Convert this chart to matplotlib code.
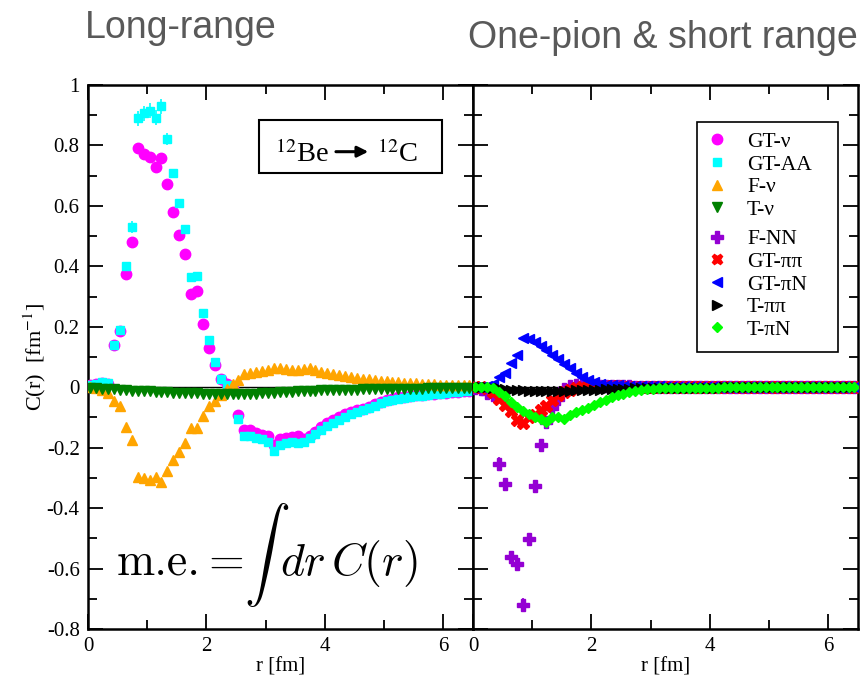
import numpy as np
import matplotlib
matplotlib.use("Agg")
import matplotlib.pyplot as plt
from matplotlib.patches import Rectangle
from matplotlib.ticker import MultipleLocator
from matplotlib.lines import Line2D

plt.rcParams['font.family'] = ['Liberation Serif', 'DejaVu Serif']
plt.rcParams['mathtext.fontset'] = 'stix'
plt.rcParams['axes.formatter.use_mathtext'] = False

# radial grid (fm)
r = np.round(0.04 + 0.1 * np.arange(65), 2)

gt_nu = [0.008, 0.012, 0.015, 0.012, 0.139, 0.185, 0.376, 0.481, 0.790, 0.771,
         0.763, 0.730, 0.760, 0.672, 0.580, 0.503, 0.440, 0.310, 0.318, 0.209,
         0.130, 0.072, 0.028, 0.010, -0.004, -0.092, -0.140, -0.140, -0.152, -0.157,
         -0.163, -0.190, -0.172, -0.167, -0.166, -0.163, -0.170, -0.163, -0.148, -0.130,
         -0.117, -0.108, -0.100, -0.090, -0.082, -0.076, -0.071, -0.065, -0.056, -0.048,
         -0.042, -0.038, -0.034, -0.031, -0.029, -0.027, -0.025, -0.023, -0.021, -0.019,
         -0.018, -0.016, -0.015, -0.013, -0.012]
gt_aa = [0.008, 0.012, 0.016, 0.014, 0.140, 0.190, 0.400, 0.531, 0.890, 0.906,
         0.915, 0.892, 0.930, 0.820, 0.708, 0.608, 0.525, 0.365, 0.369, 0.244,
         0.156, 0.082, 0.026, 0.008, -0.004, -0.104, -0.160, -0.160, -0.168, -0.172,
         -0.180, -0.212, -0.190, -0.185, -0.182, -0.186, -0.180, -0.168, -0.155, -0.140,
         -0.127, -0.117, -0.107, -0.098, -0.090, -0.083, -0.077, -0.070, -0.062, -0.053,
         -0.047, -0.042, -0.038, -0.035, -0.032, -0.030, -0.028, -0.025, -0.023, -0.021,
         -0.019, -0.017, -0.016, -0.014, -0.013]
gt_aa_err = [0.005, 0.005, 0.005, 0.005, 0.010, 0.010, 0.015, 0.020, 0.025, 0.025,
             0.025, 0.025, 0.025, 0.020, 0.015, 0.015, 0.012, 0.010, 0.010, 0.008,
             0.008, 0.006, 0.006, 0.006, 0.006, 0.006, 0.006, 0.006, 0.006, 0.006,
             0.006, 0.006, 0.006, 0.006, 0.006, 0.006, 0.006, 0.005, 0.005, 0.005,
             0.005, 0.005, 0.005, 0.005, 0.005, 0.005, 0.005, 0.005, 0.005, 0.005,
             0.004, 0.004, 0.004, 0.004, 0.004, 0.004, 0.004, 0.004, 0.004, 0.004,
             0.004, 0.004, 0.004, 0.004, 0.004]
f_nu = [0.000, -0.002, -0.008, -0.020, -0.045, -0.063, -0.131, -0.173, -0.297, -0.302,
        -0.306, -0.297, -0.313, -0.278, -0.242, -0.214, -0.186, -0.134, -0.134, -0.094,
        -0.063, -0.045, -0.025, -0.005, 0.012, 0.025, 0.043, 0.048, 0.052, 0.055,
        0.058, 0.062, 0.063, 0.060, 0.058, 0.058, 0.060, 0.062, 0.058, 0.052,
        0.047, 0.043, 0.040, 0.037, 0.034, 0.031, 0.028, 0.026, 0.024, 0.022,
        0.020, 0.018, 0.017, 0.015, 0.014, 0.013, 0.012, 0.011, 0.010, 0.009,
        0.008, 0.008, 0.007, 0.007, 0.006]
t_nu = [-0.003, -0.004, -0.005, -0.006, -0.007, -0.008, -0.010, -0.011, -0.012, -0.013,
        -0.014, -0.015, -0.016, -0.017, -0.018, -0.018, -0.019, -0.020, -0.020, -0.021,
        -0.022, -0.022, -0.023, -0.023, -0.024, -0.023, -0.023, -0.022, -0.021, -0.020,
        -0.019, -0.018, -0.017, -0.016, -0.015, -0.014, -0.013, -0.012, -0.011, -0.010,
        -0.010, -0.009, -0.009, -0.008, -0.008, -0.008, -0.007, -0.007, -0.007, -0.006,
        -0.006, -0.006, -0.006, -0.005, -0.005, -0.005, -0.005, -0.004, -0.004, -0.004,
        -0.004, -0.003, -0.003, -0.003, -0.003]

f_nn = [-0.002, -0.005, -0.020, -0.025, -0.253, -0.319, -0.562, -0.584, -0.719, -0.502,
        -0.328, -0.192, -0.115, -0.070, -0.040, -0.005, 0.005, 0.008, 0.008, 0.007,
        0.006, 0.005, 0.004, 0.004, 0.003, 0.003, 0.003, 0.002, 0.002, 0.002,
        0.002, 0.002, 0.001, 0.001, 0.001, 0.001, 0.001, 0.001, 0.001, 0.001,
        0.001, 0.001, 0.000, 0.000, 0.000, 0.000, 0.000, 0.000, 0.000, 0.000,
        0.000, 0.000, 0.000, 0.000, 0.000, 0.000, 0.000, 0.000, 0.000, 0.000,
        0.000, 0.000, 0.000, 0.000, 0.000]
f_nn_err = [0.002, 0.002, 0.004, 0.004, 0.022, 0.020, 0.015, 0.020, 0.020, 0.015,
            0.012, 0.010, 0.008, 0.005, 0.004, 0.002, 0.002, 0.002, 0.002, 0.002,
            0.002, 0.002, 0.002, 0.002, 0.002, 0.002, 0.002, 0.002, 0.002, 0.002,
            0.001, 0.001, 0.001, 0.001, 0.001, 0.001, 0.001, 0.001, 0.001, 0.001,
            0.001, 0.001, 0.001, 0.001, 0.001, 0.001, 0.001, 0.001, 0.001, 0.001,
            0.001, 0.001, 0.001, 0.001, 0.001, 0.001, 0.001, 0.001, 0.001, 0.001,
            0.001, 0.001, 0.001, 0.001, 0.001]
gt_pipi = [0.000, 0.000, -0.003, -0.015, -0.038, -0.060, -0.078, -0.109, -0.118, -0.098,
           -0.093, -0.076, -0.063, -0.043, -0.027, -0.017, -0.010, -0.004, 0.000, 0.003,
           0.004, 0.004, 0.004, 0.003, 0.003, 0.002, 0.002, 0.002, 0.002, 0.001,
           0.001, 0.001, 0.001, 0.001, 0.001, 0.001, 0.001, 0.000, 0.000, 0.000,
           0.000, 0.000, 0.000, 0.000, 0.000, 0.000, 0.000, 0.000, 0.000, 0.000,
           0.000, 0.000, 0.000, 0.000, 0.000, 0.000, 0.000, 0.000, 0.000, 0.000,
           0.000, 0.000, 0.000, 0.000, 0.000]
gt_pin = [0.000, 0.001, 0.003, 0.010, 0.035, 0.048, 0.080, 0.105, 0.164, 0.158,
          0.148, 0.135, 0.122, 0.106, 0.092, 0.077, 0.062, 0.047, 0.035, 0.025,
          0.018, 0.012, 0.009, 0.007, 0.006, 0.005, 0.005, 0.004, 0.004, 0.003,
          0.003, 0.003, 0.002, 0.002, 0.002, 0.002, 0.002, 0.002, 0.001, 0.001,
          0.001, 0.001, 0.001, 0.001, 0.001, 0.001, 0.001, 0.001, 0.001, 0.001,
          0.001, 0.001, 0.001, 0.001, 0.001, 0.000, 0.000, 0.000, 0.000, 0.000,
          0.000, 0.000, 0.000, 0.000, 0.000]
t_pipi = [0.000, 0.000, 0.000, -0.002, -0.004, -0.006, -0.008, -0.009, -0.010, -0.011,
          -0.012, -0.012, -0.012, -0.012, -0.012, -0.011, -0.011, -0.010, -0.010, -0.009,
          -0.008, -0.008, -0.007, -0.006, -0.006, -0.005, -0.005, -0.004, -0.004, -0.003,
          -0.003, -0.003, -0.002, -0.002, -0.002, -0.002, -0.001, -0.001, -0.001, -0.001,
          -0.001, -0.001, 0.000, 0.000, 0.000, 0.000, 0.000, 0.000, 0.000, 0.000,
          0.000, 0.000, 0.000, 0.000, 0.000, 0.000, 0.000, 0.000, 0.000, 0.000,
          0.000, 0.000, 0.000, 0.000, 0.000]
t_pin = [0.002, 0.002, 0.001, -0.002, -0.015, -0.028, -0.048, -0.065, -0.078, -0.088,
         -0.098, -0.106, -0.115, -0.100, -0.100, -0.104, -0.093, -0.083, -0.075, -0.068,
         -0.060, -0.050, -0.042, -0.034, -0.027, -0.021, -0.016, -0.012, -0.009, -0.007,
         -0.005, -0.004, -0.003, -0.002, -0.002, -0.002, -0.001, -0.001, -0.001, -0.001,
         -0.001, -0.001, 0.000, 0.000, 0.000, 0.000, 0.000, 0.000, 0.000, 0.000,
         0.000, 0.000, 0.000, 0.000, 0.000, 0.000, 0.000, 0.000, 0.000, 0.000,
         0.000, 0.000, 0.000, 0.000, 0.000]

ytick_vals = [-0.8, -0.6, -0.4, -0.2, 0.0, 0.2, 0.4, 0.6, 0.8, 1.0]
ytick_labels = ['-0.8', '-0.6', '-0.4', '-0.2', '0', '0.2', '0.4', '0.6', '0.8', '1']
xtick_vals = [0, 2, 4, 6]
xtick_labels = ['0', '2', '4', '6']

W, H = 860, 679
fig = plt.figure(figsize=(W / 100, H / 100), dpi=100)
ax_l = fig.add_axes([88 / W, 50 / H, 385 / W, 544 / H])
ax_r = fig.add_axes([473 / W, 50 / H, 385 / W, 544 / H])

TICKFS = 15
for ax in (ax_l, ax_r):
    ax.set_xlim(0, 6.5)
    ax.set_ylim(-0.8, 1.0)
    ax.set_xticks(xtick_vals)
    ax.set_xticklabels(xtick_labels)
    ax.xaxis.set_minor_locator(MultipleLocator(1))
    ax.set_yticks(ytick_vals)
    ax.yaxis.set_minor_locator(MultipleLocator(0.1))
    ax.tick_params(which='both', direction='in', top=True, right=True,
                   width=1.3, labelsize=TICKFS, pad=6)
    ax.tick_params(which='major', length=11)
    ax.tick_params(which='minor', length=6.5)
    for s in ax.spines.values():
        s.set_linewidth(1.8)
    ax.axhline(0, color='black', lw=1.0, zorder=1)
    ax.set_xlabel('r [fm]', fontsize=15, labelpad=1)

ax_l.set_yticklabels(ytick_labels)
ax_r.tick_params(labelleft=False)
ax_l.set_ylabel(r'C(r)  [fm$^{-1}$]', fontsize=16, labelpad=-1)

c_mag, c_cyan, c_orange, c_dgreen = '#ff00ff', '#00ffff', '#ffa500', '#008000'
c_purple, c_red, c_blue, c_black, c_lgreen = '#9400d3', '#ff0000', '#0000ff', '#000000', '#00ff00'

# left panel
ax_l.plot(r, gt_nu, 'o', color=c_mag, ms=7.5, zorder=3)
ax_l.errorbar(r, gt_aa, yerr=gt_aa_err, fmt='s', color=c_cyan, ms=6,
              elinewidth=1.2, capsize=0, zorder=4)
ax_l.plot(r, f_nu, '^', color=c_orange, ms=7.5, zorder=5)
ax_l.plot(r, t_nu, 'v', color=c_dgreen, ms=7.5, zorder=6)

# right panel
ax_r.errorbar(r, f_nn, yerr=f_nn_err, fmt='P', color=c_purple, ms=8,
              elinewidth=1.2, capsize=0, zorder=3)
ax_r.plot(r, gt_pipi, 'X', color=c_red, ms=8, zorder=4)
ax_r.plot(r, gt_pin, '<', color=c_blue, ms=7.5, zorder=5)
ax_r.plot(r, t_pipi, '>', color=c_black, ms=6.5, zorder=6)
ax_r.plot(r, t_pin, 'D', color=c_lgreen, ms=5.5, zorder=7)

# legend (two groups in one framed box)
def h(marker, color, ms):
    return Line2D([], [], ls='none', marker=marker, color=color, ms=ms)

leg_kw = dict(frameon=False, fontsize=15.5, borderpad=0, handlelength=1.2,
              handletextpad=0.8, labelspacing=0.12, numpoints=1,
              loc='upper left', borderaxespad=0)
leg1 = ax_r.legend([h('o', c_mag, 7.5), h('s', c_cyan, 6), h('^', c_orange, 7.5),
                    h('v', c_dgreen, 7.5)],
                   ['GT-ν', 'GT-AA', 'F-ν', 'T-ν'],
                   bbox_to_anchor=(0.60, 0.914), **leg_kw)
ax_r.add_artist(leg1)
leg2 = ax_r.legend([h('P', c_purple, 8), h('X', c_red, 7.5), h('<', c_blue, 7.5),
                    h('>', c_black, 6.5), h('D', c_lgreen, 5.5)],
                   ['F-NN', 'GT-ππ', 'GT-πN', 'T-ππ', 'T-πN'],
                   bbox_to_anchor=(0.60, 0.735), **leg_kw)
ax_r.add_patch(Rectangle((0.582, 0.509), 0.366, 0.423, transform=ax_r.transAxes,
                         facecolor='white', edgecolor='black', lw=1.2, zorder=9))
leg1.set_zorder(10)
leg2.set_zorder(10)

# reaction box
ax_l.add_patch(Rectangle((0.445, 0.839), 0.474, 0.097, transform=ax_l.transAxes,
                         facecolor='white', edgecolor='black', lw=1.5, zorder=9))
ax_l.text(0.4857, 0.859, r'$^{12}$Be', transform=ax_l.transAxes, fontsize=20.5,
          ha='left', va='baseline', zorder=10)
ax_l.text(0.75, 0.859, r'$^{12}$C', transform=ax_l.transAxes, fontsize=20.5,
          ha='left', va='baseline', zorder=10)
ax_l.annotate('', xy=(0.728, 0.8774), xytext=(0.644, 0.8774),
              xycoords='axes fraction', textcoords='axes fraction',
              arrowprops=dict(arrowstyle='-|>', lw=2.2, color='black',
                              mutation_scale=16, shrinkA=0, shrinkB=0),
              zorder=10)

# matrix-element formula
ax_l.text(0.0753, 0.0993, 'm.e.', transform=ax_l.transAxes,
          fontsize=33, family='cmr10', ha='left', va='baseline')
ax_l.text(0.3117, 0.0993, '=', transform=ax_l.transAxes,
          fontsize=33, family='cmr10', ha='left', va='baseline')
ax_l.text(0.405, 0.136, r'$\int$', transform=ax_l.transAxes,
          fontsize=33, math_fontfamily='cm', ha='left', va='center')
ax_l.text(0.4987, 0.0993, r'$dr\,C(r)$', transform=ax_l.transAxes,
          fontsize=33, math_fontfamily='cm', ha='left', va='baseline')

# slide titles
fig.text(85 / W, 1 - 38 / H, 'Long-range', fontsize=27, color='#595959',
         family='Liberation Sans', ha='left', va='baseline')
fig.text(468 / W, 1 - 48 / H, 'One-pion & short range', fontsize=27, color='#595959',
         family='Liberation Sans', ha='left', va='baseline')

fig.savefig('out.png', dpi=100)
